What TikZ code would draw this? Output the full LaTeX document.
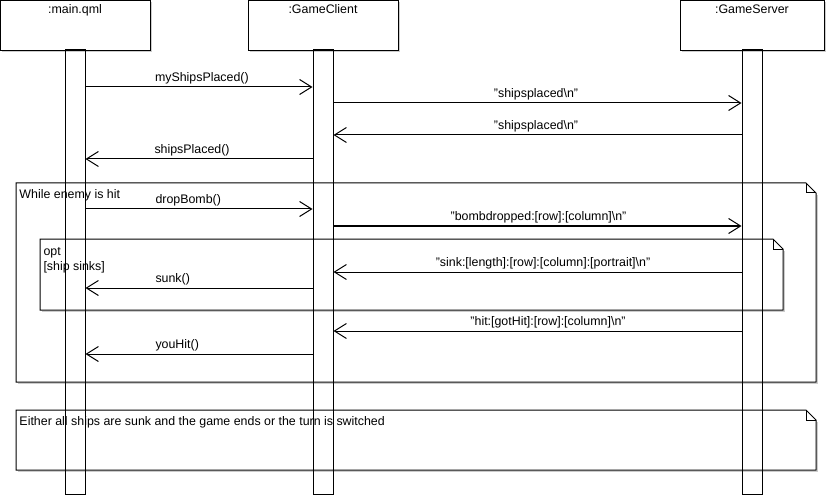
\documentclass[tikz,border=0pt]{standalone}
\usepackage{fontspec}
\setmainfont{Liberation Sans}
\usetikzlibrary{arrows.meta}
\begin{document}
\begin{tikzpicture}[x=1pt,y=-1pt,line width=1pt,
  every node/.style={font=\fontsize{12.4}{14}\selectfont,inner sep=0pt},
  headbox/.style={draw,fill=white,minimum height=50pt,anchor=north west},
  bar/.style={draw,minimum width=20pt,minimum height=444pt},
  msg/.style={-{Straight Barb[length=12pt,width=15pt]}},
  leftlbl/.style={anchor=base west},
  midlbl/.style={anchor=base},
  shadow/.style={draw=black!20,line width=1pt}]
\useasboundingbox (0,0) rectangle (827,497);
% shadows
\draw[shadow] (151.5,2) -- (151.5,51.5) -- (2,51.5);
\draw[shadow] (399.5,2) -- (399.5,51.5) -- (250,51.5);
\draw[shadow] (825.5,2) -- (825.5,51.5) -- (682,51.5);
\draw[shadow] (817.5,195) -- (817.5,383.5) -- (18,383.5);
\draw[shadow] (784.5,251) -- (784.5,311.5) -- (42,311.5);
\draw[shadow] (817.5,422) -- (817.5,471.5) -- (18,471.5);
% heads
\node[headbox,minimum width=150pt] (mainhead) at (0,0) {};
\node[headbox,minimum width=150pt] (clienthead) at (248,0) {};
\node[headbox,minimum width=144pt] (serverhead) at (680,0) {};
\node[anchor=base] (mainlbl) at (75,14) {:main.qml};
\node[anchor=base] (clientlbl) at (323,14) {:GameClient};
\node[anchor=base] (serverlbl) at (752,14) {:GameServer};
% bars
\node[bar] (mainbar) at (75,272) {};
\node[bar] (clientbar) at (323,272) {};
\node[bar] (serverbar) at (752,272) {};
% frames
\draw (16,183) -- (806,183) -- (816,193) -- (816,382) -- (16,382) -- cycle;
\draw (806,183) -- (806,193) -- (816,193);
\draw (40,239) -- (773,239) -- (783,249) -- (783,310) -- (40,310) -- cycle;
\draw (773,239) -- (773,249) -- (783,249);
\draw (16,410) -- (806,410) -- (816,420) -- (816,470) -- (16,470) -- cycle;
\draw (806,410) -- (806,420) -- (816,420);
\node[leftlbl] (looplbl) at (19,199) {While enemy is hit};
\node[leftlbl] (optlbl) at (43,255) {opt};
\node[leftlbl] (guardlbl) at (43,270) {[ship sinks]};
\node[leftlbl] (notelbl) at (19,425.5) {Either all ships are sunk and the game ends or the turn is switched};
% message rows
\coordinate (r1) at (0,87);
\coordinate (r2) at (0,103);
\coordinate (r3) at (0,135);
\coordinate (r4) at (0,159);
\coordinate (r5) at (0,209);
\coordinate (r6) at (0,226);
\coordinate (r7) at (0,272);
\coordinate (r8) at (0,288);
\coordinate (r9) at (0,331);
\coordinate (r10) at (0,354);
\draw[msg] (mainbar.east |- r1) -- (clientbar.west |- r1);
\node[leftlbl] (m1) at (154.5,81.5) {myShipsPlaced()};
\draw[msg] (clientbar.east |- r2) -- (serverbar.west |- r2);
\node[midlbl] (m2) at (536,97.5) {"shipsplaced\textbackslash n"};
\draw[msg] (serverbar.west |- r3) -- (clientbar.east |- r3);
\node[midlbl] (m3) at (536,129.5) {"shipsplaced\textbackslash n"};
\draw[msg] (clientbar.west |- r4) -- (mainbar.east |- r4);
\node[leftlbl] (m4) at (154,153.5) {shipsPlaced()};
\draw[msg] (mainbar.east |- r5) -- (clientbar.west |- r5);
\node[leftlbl] (m5) at (155,203.5) {dropBomb()};
\draw[msg] (clientbar.east |- r6) -- (serverbar.west |- r6);
\node[midlbl] (m6) at (538.5,220.5) {"bombdropped:[row]:[column]\textbackslash n"};
\draw[msg] (serverbar.west |- r7) -- (clientbar.east |- r7);
\node[midlbl] (m7) at (543,266.5) {"sink:[length]:[row]:[column]:[portrait]\textbackslash n"};
\draw[msg] (clientbar.west |- r8) -- (mainbar.east |- r8);
\node[leftlbl] (m8) at (155,282.5) {sunk()};
\draw[msg] (serverbar.west |- r9) -- (clientbar.east |- r9);
\node[midlbl] (m9) at (548,325.5) {"hit:[gotHit]:[row]:[column]\textbackslash n"};
\draw[msg] (clientbar.west |- r10) -- (mainbar.east |- r10);
\node[leftlbl] (m10) at (155,348.5) {youHit()};
\end{tikzpicture}
\end{document}
